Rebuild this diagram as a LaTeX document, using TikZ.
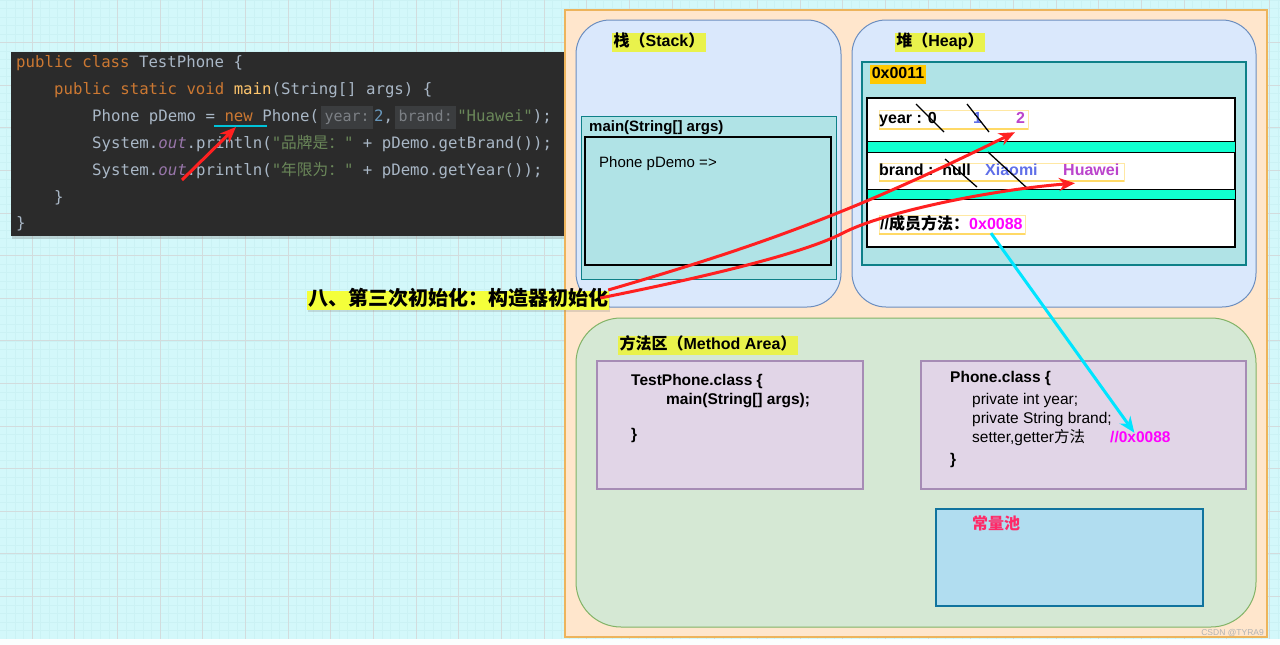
\documentclass[tikz,border=0pt]{standalone}
\usepackage{fontspec}
\setmainfont{Liberation Sans}
\newfontfamily\cjk{Noto Sans CJK SC}
\newfontfamily\codefont{DejaVu Sans Mono}
\usetikzlibrary{arrows.meta,positioning,calc,shadows}

\definecolor{paper}{HTML}{D3F8FA}
\definecolor{gridmaj}{HTML}{D2DCDD}
\definecolor{gridmin}{HTML}{CBF2F4}
\definecolor{codebg}{HTML}{2B2B2B}
\definecolor{jplain}{HTML}{A9B7C6}
\definecolor{jkw}{HTML}{CC7832}
\definecolor{jfn}{HTML}{FFC66D}
\definecolor{jnum}{HTML}{6897BB}
\definecolor{jstr}{HTML}{6A8759}
\definecolor{jfld}{HTML}{9876AA}
\definecolor{hintbg}{HTML}{3B3D3F}
\definecolor{hintfg}{HTML}{7C8085}
\definecolor{jvmfill}{HTML}{FFE6CC}
\definecolor{jvmline}{HTML}{EDB45C}
\definecolor{memfill}{HTML}{DAE8FC}
\definecolor{memline}{HTML}{6C8EBF}
\definecolor{methfill}{HTML}{D5E8D4}
\definecolor{methline}{HTML}{82B366}
\definecolor{framefill}{HTML}{B0E3E6}
\definecolor{frameline}{HTML}{0E8088}
\definecolor{classfill}{HTML}{E1D5E7}
\definecolor{classline}{HTML}{A68CB5}
\definecolor{poolfill}{HTML}{B1DDF0}
\definecolor{poolline}{HTML}{10739E}
\definecolor{stripe}{HTML}{10FFD0}
\definecolor{tagyellow}{HTML}{E9F24C}
\definecolor{titleyellow}{HTML}{F4FF3A}
\definecolor{addrgold}{HTML}{FFC800}
\definecolor{oldblue}{HTML}{5F6FE8}
\definecolor{newpurple}{HTML}{BB44CC}
\definecolor{addrpink}{HTML}{FF00FF}
\definecolor{poolred}{HTML}{FF2A68}
\definecolor{uline}{HTML}{FFD966}
\definecolor{ctorred}{HTML}{FF2020}
\definecolor{linkcyan}{HTML}{00E5FF}

\newcommand\jkw[1]{\textcolor{jkw}{#1}}
\newcommand\jfn[1]{\textcolor{jfn}{#1}}
\newcommand\jnum[1]{\textcolor{jnum}{#1}}
\newcommand\jstr[1]{\textcolor{jstr}{#1}}
\newcommand\jfld[1]{\textcolor{jfld}{\itshape #1}}
\newcommand\jhint[1]{\hspace{2pt}{\setlength\fboxsep{3.5pt}\colorbox{hintbg}{\fontsize{15}{16}\selectfont\color{hintfg}\strut #1}}\hspace{1pt}}

\begin{document}
\begin{tikzpicture}[x=1pt,y=-1pt,
  code/.style={anchor=base west, inner sep=0pt, text=jplain, font=\codefont\fontsize{15.7}{18}\selectfont},
  memarea/.style={draw=memline, fill=memfill, line width=1pt, rounded corners=34pt},
  frame/.style={draw=frameline, fill=framefill, line width=1pt},
  classbox/.style={draw=classline, fill=classfill, line width=1.2pt},
  tag/.style={fill=tagyellow, inner sep=1.5pt, text height=12pt, text depth=4pt, font=\bfseries\fontsize{16}{18}\selectfont},
  txt/.style={anchor=west, inner sep=0pt, text height=11pt, text depth=3pt, font=\fontsize{15}{18}\selectfont},
  heavy/.style={txt, font=\bfseries\fontsize{16}{18}\selectfont},
  classtxt/.style={txt, font=\bfseries\fontsize{15.5}{18}\selectfont},
  slot/.style={draw=uline!60, line width=.8pt},
  strike/.style={black, line width=1.3pt},
  ctorarrow/.style={ctorred, line width=3pt, -{Stealth[length=16pt,width=13pt,inset=5pt]}},
  linkarrow/.style={linkcyan, line width=3pt, -{Stealth[length=16pt,width=13pt,inset=5pt]}}]

\useasboundingbox (0,0) rectangle (1280,645);
\fill[paper] (0,0) rectangle (1280,645);
\foreach \i in {0,...,150}
  \draw[gridmin, line width=.5pt] ({-2.133+8.533*\i},0) -- ++(0,645);
\foreach \j in {0,...,76}
  \draw[gridmin, line width=.5pt] (0,{8.52*\j}) -- ++(1280,0);
\foreach \i in {0,...,29}
  \draw[gridmaj, line width=1pt] ({32+42.667*\i},0) -- ++(0,645);
\foreach \j in {1,...,15}
  \draw[gridmaj, line width=1pt] (0,{42.6*\j}) -- ++(1280,0);
\fill[white!90!paper] (0,639) rectangle (1280,645);

% code
\fill[codebg, drop shadow={opacity=.3, shadow xshift=1pt, shadow yshift=-3pt}] (11,52) rectangle (575,236);
\node[code] (l1) at (16,67) {\jkw{public class} TestPhone \{};
\node[code] (l2) at (54,94) {\jkw{public static void} \jfn{main}(String[] args) \{};
\node[code] (l3) at (92,121) {Phone pDemo = \jkw{new} Phone(\jhint{year:}\jnum{2},\jhint{brand:}\jstr{"Huawei"});};
\node[code] (l4) at (92,148) {System.\jfld{out}.println(\jstr{"{\cjk 品牌是：}"} + pDemo.getBrand());};
\node[code] (l5) at (92,175) {System.\jfld{out}.println(\jstr{"{\cjk 年限为：}"} + pDemo.getYear());};
\node[code] (l6) at (54,202) {\}};
\node[code] (l7) at (16,228) {\}};
\draw[linkcyan!85!black, line width=2.5pt] (214,126) -- (267,126);

% jvm
\draw[jvmline, fill=jvmfill, line width=1.2pt] (565,10) rectangle (1267,637);

\draw[memarea] (576,20) rectangle (841,307);
\draw[memarea] (852,20) rectangle (1256,307);
\node[tag] (stacktag) at (659,42) {{\cjk 栈（}Stack{\cjk ）}};
\node[tag] (heaptag) at (940,42) {{\cjk 堆（}Heap{\cjk ）}};

\draw[frame] (581,116) rectangle (836,279);
\node[txt, font=\bfseries\fontsize{15}{18}\selectfont] (mainlbl) at (589,127) {main(String[] args)};
\draw[black, line width=2pt, fill=framefill] (585,137) rectangle (831,265);
\node[txt] (pdemo) at (599,163) {Phone pDemo =>};

\draw[frame, line width=2pt] (862,62) rectangle (1246,265);
\node[tag, fill=addrgold] (objaddr) at (898,74) {0x0011};
\draw[fill=white, line width=2pt] (867,98) rectangle (1235,247);
\draw[fill=stripe, line width=1pt] (867,141) rectangle (1235,152);
\draw[fill=stripe, line width=1pt] (867,189) rectangle (1235,199);

\draw[slot] (879,110) rectangle (1028,129);
\draw[slot] (879,163) rectangle (1124,181);
\draw[slot] (879,215) rectangle (1025,234);
\draw[uline, line width=1.5pt] (879,129) -- (1028,129);
\draw[uline, line width=1.5pt] (879,181) -- (1124,181);
\draw[uline, line width=1.5pt] (879,234) -- (1025,234);

\node[heavy] (year0) at (879,119) {year : 0};
\node[heavy, text=oldblue] (year1) at (973,119) {1};
\node[heavy, text=newpurple] (year2) at (1016,119) {2};
\node[heavy] (brandnull) at (879,171) {brand :\hspace{9pt}null};
\node[heavy, text=oldblue] (xiaomi) at (985,171) {Xiaomi};
\node[heavy, text=newpurple] (huawei) at (1063,171) {Huawei};
\node[heavy] (member) at (880,225) {//{\cjk 成员方法：}};
\node[heavy, text=addrpink] (addr) at (969,225) {0x0088};

\draw[strike] (916,104) -- (944,132);
\draw[strike] (967,104) -- (989,132);
\draw[strike] (945,159) -- (977,187);
\draw[strike] (988,152) -- (1027,188);

% method area
\draw[methline, fill=methfill, line width=1pt, rounded corners=45pt] (576,318) rectangle (1256,627);
\node[tag] (methtag) at (708,345) {{\cjk 方法区（}Method Area{\cjk ）}};

\draw[classbox] (597,361) rectangle (863,489);
\node[classtxt] (tpclass) at (631,381) {TestPhone.class \{};
\node[classtxt] (tpmain) at (666,400) {main(String[] args);};
\node[classtxt] (tpend) at (631,435) {\}};

\draw[classbox] (921,361) rectangle (1246,489);
\node[classtxt] (pclass) at (950,378) {Phone.class \{};
\node[txt, font=\fontsize{15.5}{18}\selectfont] (pyear) at (972,400) {private int year;};
\node[txt, font=\fontsize{15.5}{18}\selectfont] (pbrand) at (972,419) {private String brand;};
\node[txt, font=\fontsize{15.5}{18}\selectfont] (pmeth) at (972,438) {setter,getter{\cjk 方法}};
\node[classtxt, text=addrpink] (paddr) at (1110,438) {//0x0088};
\node[classtxt] (pend) at (950,460) {\}};

\draw[poolline, fill=poolfill, line width=2pt] (936,509) rectangle (1203,606);
\node[heavy, text=poolred] (pooltag) at (972,525) {{\cjk 常量池}};

% constructor
\node[fill=titleyellow, inner sep=1pt, text height=14pt, text depth=3pt,
  font=\cjk\bfseries\fontsize{20}{22}\selectfont,
  drop shadow={opacity=.25, shadow xshift=1pt, shadow yshift=-2pt}] (ctor) at (458,300) {八、第三次初始化：构造器初始化};

\coordinate (newtail) at (182,180);
\coordinate (newtip) at (236,127);
\draw[ctorarrow] (newtail) -- (newtip);
\draw[ctorarrow] ($(ctor.east)+(-1,-10)$) to[bend right=5] ($(year2.south west)+(-1,6)$);
\draw[ctorarrow] ($(ctor.east)+(-9,-2)$) .. controls (680,282) and (800,256) .. (845,232)
  .. controls (885,212) and (990,190) .. ($(huawei.south west)+(12,5)$);
\draw[linkarrow] ($(addr.south west)+(22,1)$) -- ($(paddr.north)+(-6,2)$);

\node[anchor=east, text=gray!60, inner sep=0pt, font=\fontsize{8.5}{9}\selectfont] (mark) at (1264,633) {CSDN @TYRA9};
\end{tikzpicture}
\end{document}
